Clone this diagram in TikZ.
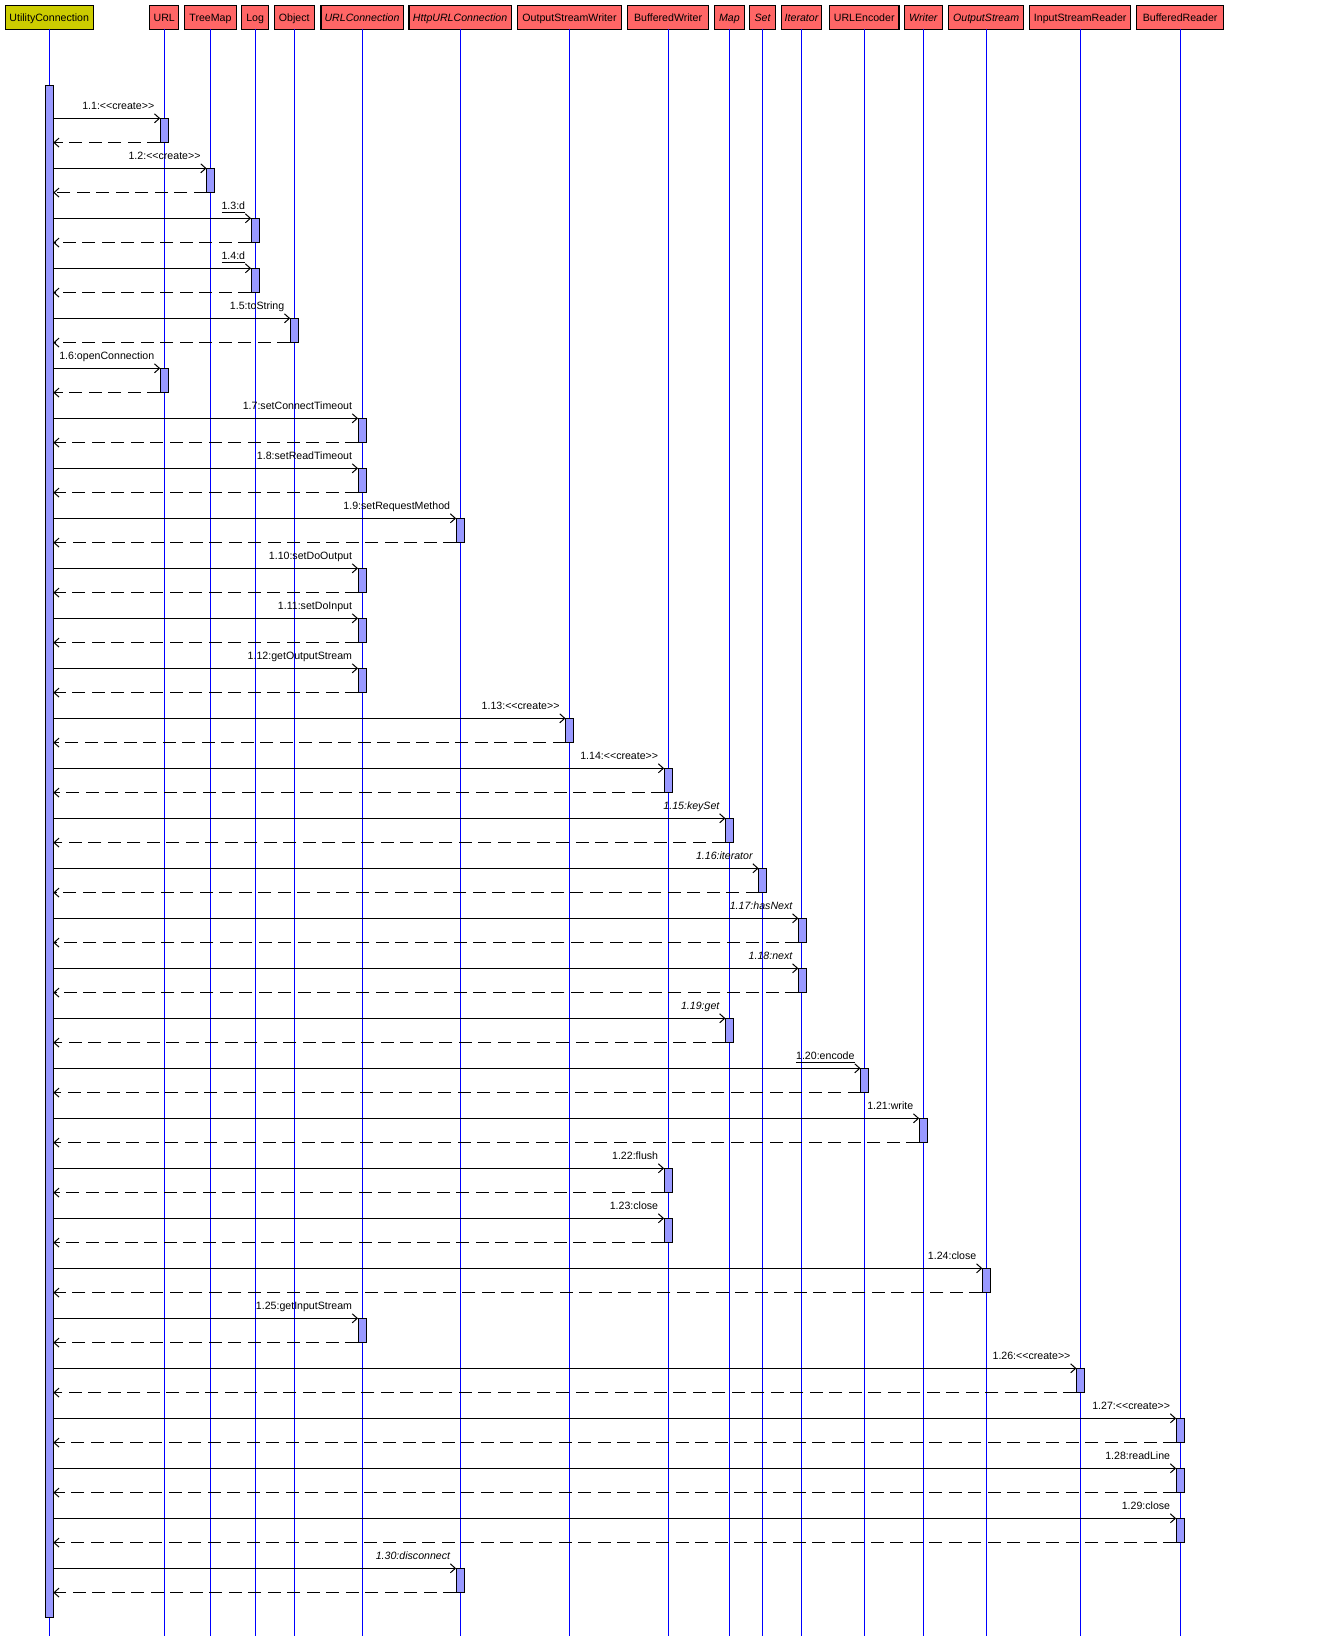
\documentclass[tikz,border=0pt]{standalone}
\usepackage{fontspec}
\setmainfont{Liberation Sans}
\usetikzlibrary{arrows.meta}
\definecolor{hdrred}{RGB}{255,102,102}
\definecolor{hdryel}{RGB}{204,204,0}
\definecolor{actblue}{RGB}{153,153,255}
\definecolor{lifeblue}{RGB}{0,0,255}
\newcommand\mycreate{<\kern0pt<create>\kern0pt>}
\tikzset{
  basefont/.style={font=\fontsize{10.6}{12}\selectfont},
  hdr/.style={basefont, draw=black, line width=1.1pt, fill=hdrred, minimum height=24pt, inner sep=0pt, outer sep=0pt, text height=9pt, text depth=0pt},
  hdrit/.style={hdr, font=\fontsize{10.6}{12}\selectfont\itshape},
  actor/.style={hdr, fill=hdryel},
  lifeline/.style={draw=lifeblue, line width=1pt},
  act/.style={draw=black, line width=1pt, fill=actblue, minimum width=8pt, minimum height=24.3pt, inner sep=0pt, outer sep=0pt},
  msg/.style={draw=black, line width=1pt, -{Straight Barb[length=5pt,width=9pt]}},
  ret/.style={msg, dash pattern=on 13pt off 6.5pt},
  lbl/.style={basefont, inner sep=0pt, outer sep=0pt, anchor=base east},
  lkn/.style={}, lku/.style={}, lki/.style={font=\fontsize{10.6}{12}\selectfont\itshape},
  uln/.style={draw=none}, uli/.style={draw=none}, ulu/.style={draw=black, line width=0.9pt},
}
\begin{document}
\begin{tikzpicture}[x=1pt,y=-1pt]
\useasboundingbox (0,0) rectangle (1317,1636);
% headers
\node[actor, minimum width=88.3pt] (uc) at (49.2,17.3) {UtilityConnection};
\node[hdr, minimum width=29pt] (url) at (164.2,17.3) {URL};
\node[hdr, minimum width=51.3pt] (tm) at (210.5,17.3) {TreeMap};
\node[hdr, minimum width=27.3pt] (log) at (255.1,17.3) {Log};
\node[hdr, minimum width=40pt] (obj) at (294.2,17.3) {Object};
\node[hdrit, minimum width=82.1pt] (urlc) at (362,17.3) {URLConnection};
\node[hdrit, minimum width=102.3pt] (http) at (460.1,17.3) {HttpURLConnection};
\node[hdr, minimum width=104.4pt] (osw) at (569.5,17.3) {OutputStreamWriter};
\node[hdr, minimum width=80.6pt] (bw) at (668.1,17.3) {BufferedWriter};
\node[hdrit, minimum width=29.3pt] (map) at (729.4,17.3) {Map};
\node[hdrit, minimum width=25.5pt] (set) at (762.6,17.3) {Set};
\node[hdrit, minimum width=40.2pt] (it) at (801.5,17.3) {Iterator};
\node[hdr, minimum width=69.5pt] (enc) at (864.2,17.3) {URLEncoder};
\node[hdrit, minimum width=38.5pt] (wr) at (923.3,17.3) {Writer};
\node[hdrit, minimum width=75.1pt] (os) at (986.1,17.3) {OutputStream};
\node[hdr, minimum width=101.1pt] (isr) at (1080.2,17.3) {InputStreamReader};
\node[hdr, minimum width=87.2pt] (br) at (1180.1,17.3) {BufferedReader};
% lifelines
\foreach \h in {uc,url,tm,log,obj,urlc,http,osw,bw,map,set,it,enc,wr,os,isr,br}
  \draw[lifeline] (\h.south) -- ++(0,1610);
% caller activation
\node[act, minimum height=1532pt] (uca) at (49.3,851.3) {};
% messages
\foreach \i/\lx/\txt/\k in {
  1/164.2/{1.1:\mycreate}/n,
  2/210.5/{1.2:\mycreate}/n,
  3/255.1/{1.3:d}/u,
  4/255.1/{1.4:d}/u,
  5/294.2/{1.5:toString}/n,
  6/164.2/{1.6:openConnection}/n,
  7/362/{1.7:setConnectTimeout}/n,
  8/362/{1.8:setReadTimeout}/n,
  9/460.1/{1.9:setRequestMethod}/n,
  10/362/{1.10:setDoOutput}/n,
  11/362/{1.11:setDoInput}/n,
  12/362/{1.12:getOutputStream}/n,
  13/569.5/{1.13:\mycreate}/n,
  14/668.1/{1.14:\mycreate}/n,
  15/729.4/{1.15:keySet}/i,
  16/762.6/{1.16:iterator}/i,
  17/802.3/{1.17:hasNext}/i,
  18/802.3/{1.18:next}/i,
  19/729.4/{1.19:get}/i,
  20/864.5/{1.20:encode}/u,
  21/923.2/{1.21:write}/n,
  22/668.1/{1.22:flush}/n,
  23/668.1/{1.23:close}/n,
  24/986.3/{1.24:close}/n,
  25/362/{1.25:getInputStream}/n,
  26/1080.4/{1.26:\mycreate}/n,
  27/1180.1/{1.27:\mycreate}/n,
  28/1180.1/{1.28:readLine}/n,
  29/1180.1/{1.29:close}/n,
  30/460.1/{1.30:disconnect}/i}{
  \pgfmathsetmacro\ym{118.3+(\i-1)*50+12.15}
  \node[act] (a\i) at (\lx,\ym) {};
  \draw[msg] (uca.east |- a\i.north west) -- (a\i.north west);
  \draw[ret] (a\i.south west) -- (uca.east |- a\i.south west);
  \node[lbl, lk\k] (l\i) at ([xshift=-6pt,yshift=9.3pt]a\i.north west) {\txt};
  \draw[ul\k] ([yshift=-3pt]l\i.base west) -- ([yshift=-3pt]l\i.base east);
}
\end{tikzpicture}
\end{document}
